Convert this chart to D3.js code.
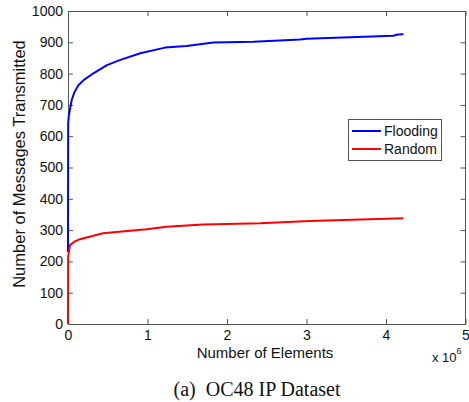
<!DOCTYPE html>
<html><head><meta charset="utf-8">
<script src="https://cdn.jsdelivr.net/npm/d3@7"></script>
<style>body{margin:0;background:#fff}svg{display:block}</style>
</head><body>
<svg id="c" width="469" height="402"></svg>
<script>
// x in millions of elements
const floodX = [0, 0.002, 0.01, 0.046, 0.08, 0.13, 0.2, 0.32, 0.49, 0.65, 0.91, 1.22, 1.49, 1.83, 2.33, 2.92, 3.0, 3.55, 4.09, 4.15, 4.22];
const floodY = [230, 640, 665, 715, 740, 763, 780, 801, 827, 843, 865, 883, 888, 899, 902, 909, 911, 916, 921, 925, 926];
const randX = [0, 0.002, 0.025, 0.08, 0.15, 0.44, 0.99, 1.24, 1.70, 2.42, 3.04, 4.22];
const randY = [0, 215, 252, 263, 271, 290, 303, 311, 318, 322, 329, 338];
const xTicks = [0, 1, 2, 3, 4, 5];
const yTicks = [0, 100, 200, 300, 400, 500, 600, 700, 800, 900, 1000];
const seriesNames = ["Flooding", "Random"];
const seriesColors = ["#0000ff", "#ff0000"];

const svg = d3.select("#c");
const L = 68, R = 465.5, T = 11, B = 324;
const x = d3.scaleLinear().domain([0, 5]).range([L, R]);
const y = d3.scaleLinear().domain([0, 1000]).range([B, T]);
const axisColor = "#555";
const font = "Liberation Sans, Arial, Helvetica, sans-serif";

// box
svg.append("rect").attr("x", L).attr("y", T).attr("width", R - L).attr("height", B - T)
  .attr("fill", "none").attr("stroke", axisColor).attr("stroke-width", 1).attr("shape-rendering", "crispEdges");

// axes with inward ticks
const xb = svg.append("g").attr("transform", `translate(0,${B})`)
  .call(d3.axisBottom(x).tickValues(xTicks).tickSizeInner(-5).tickSizeOuter(0).tickPadding(6).tickFormat(d3.format("d")));
const xt = svg.append("g").attr("transform", `translate(0,${T})`)
  .call(d3.axisTop(x).tickValues(xTicks).tickSizeInner(-5).tickSizeOuter(0).tickFormat(""));
const yl = svg.append("g").attr("transform", `translate(${L},0)`)
  .call(d3.axisLeft(y).tickValues(yTicks).tickSizeInner(-5).tickSizeOuter(0).tickPadding(5).tickFormat(d3.format("d")));
const yr = svg.append("g").attr("transform", `translate(${R},0)`)
  .call(d3.axisRight(y).tickValues(yTicks).tickSizeInner(-5).tickSizeOuter(0).tickFormat(""));
[xb, xt, yl, yr].forEach(g => {
  g.select(".domain").remove();
  g.selectAll("line").attr("stroke", axisColor);
  g.selectAll("text").attr("fill", "#111").style("font-family", font).style("font-size", "14px");
});

// lines
const line = d3.line().x(d => x(d[0])).y(d => y(d[1]));
const series = [d3.zip(floodX, floodY), d3.zip(randX, randY)];
series.forEach((s, i) => {
  svg.append("path").datum(s).attr("d", line).attr("fill", "none")
    .attr("stroke", seriesColors[i]).attr("stroke-width", 2).attr("stroke-linejoin", "round");
});

// legend
const lg = svg.append("g");
lg.append("rect").attr("x", 348.5).attr("y", 119.5).attr("width", 93).attr("height", 41)
  .attr("fill", "#fff").attr("stroke", axisColor).attr("stroke-width", 1);
seriesNames.forEach((n, i) => {
  const yy = 131 + i * 18;
  lg.append("line").attr("x1", 352).attr("x2", 381).attr("y1", yy).attr("y2", yy)
    .attr("stroke", seriesColors[i]).attr("stroke-width", 2);
  lg.append("text").attr("x", 384).attr("y", yy + 5).text(n)
    .style("font-family", font).style("font-size", "14px").attr("fill", "#111");
});

// labels
svg.append("text").attr("x", 265).attr("y", 358).attr("text-anchor", "middle")
  .style("font-family", font).style("font-size", "15px").attr("fill", "#111").text("Number of Elements");
svg.append("text").attr("transform", "translate(25,164) rotate(-90)").attr("text-anchor", "middle")
  .style("font-family", font).style("font-size", "16.5px").attr("fill", "#111").text("Number of Messages Transmitted");
const ex = svg.append("text").attr("x", 432).attr("y", 362)
  .style("font-family", font).style("font-size", "13px").attr("fill", "#111");
ex.append("tspan").text("x 10");
ex.append("tspan").attr("dy", -8).style("font-size", "9px").text("6");

svg.append("text").attr("x", 257).attr("y", 396).attr("text-anchor", "middle")
  .attr("xml:space", "preserve").style("white-space", "pre")
  .style("font-family", "Liberation Serif, Times New Roman, serif").style("font-size", "20px").attr("fill", "#111")
  .text("(a)  OC48 IP Dataset");
</script>
</body></html>
